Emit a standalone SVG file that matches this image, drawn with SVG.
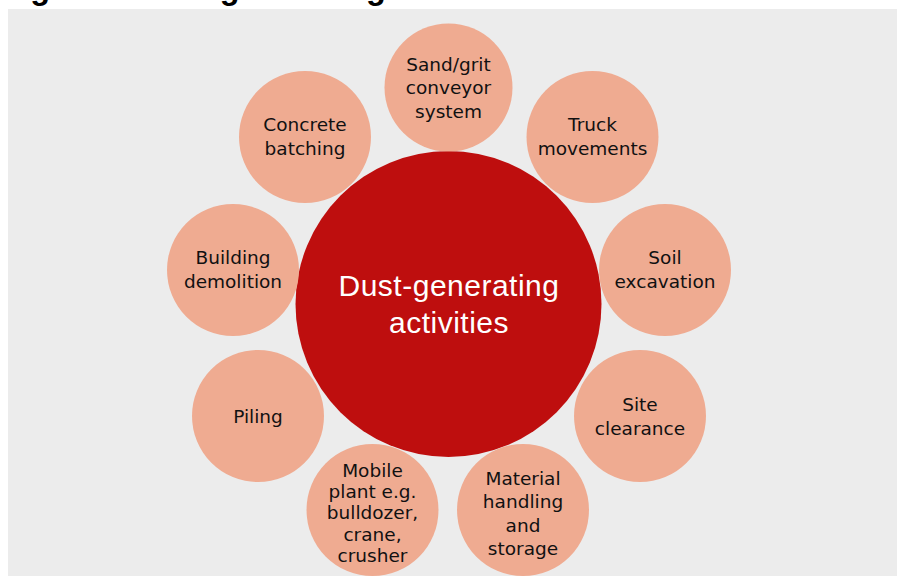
<svg xmlns="http://www.w3.org/2000/svg" width="898" height="576" viewBox="0 0 898 576">
  <style>
    .panel { fill: #ececec; }
    .hub { fill: #be0e0e; }
    .sat { fill: #efab91; }
    .title { font-family: "Liberation Sans", Arial, sans-serif; font-weight: bold; font-size: 32.5px; fill: #000; }
    .lbl { font-family: "DejaVu Sans", Verdana, sans-serif; font-size: 18.5px; fill: #111; text-anchor: middle; }
    .hubtxt { font-family: "Liberation Sans", Arial, sans-serif; font-size: 30px; letter-spacing: 0.5px; fill: #fff; text-anchor: middle; }
  </style>
  <rect x="0" y="0" width="898" height="576" fill="#ffffff"/>
  <text class="title" x="1.3" y="-1.2">Figure 1 Dust-generating activities</text>
  <rect class="panel" x="8" y="9" width="889" height="567"/>

  <g id="hub">
    <circle class="hub" cx="448.5" cy="304" r="153"/>
    <text class="hubtxt" x="449" y="296">Dust-generating</text>
    <text class="hubtxt" x="449" y="333">activities</text>
  </g>

  <g id="sand-grit">
    <circle class="sat" cx="448.5" cy="87.5" r="64"/>
    <text class="lbl" x="448.5" y="70.5">Sand/grit</text>
    <text class="lbl" x="448.5" y="94">conveyor</text>
    <text class="lbl" x="448.5" y="117.5">system</text>
  </g>

  <g id="concrete">
    <circle class="sat" cx="305" cy="137" r="66"/>
    <text class="lbl" x="305" y="131">Concrete</text>
    <text class="lbl" x="305" y="155">batching</text>
  </g>

  <g id="truck">
    <circle class="sat" cx="592.5" cy="137" r="66"/>
    <text class="lbl" x="592.5" y="131">Truck</text>
    <text class="lbl" x="592.5" y="155">movements</text>
  </g>

  <g id="demolition">
    <circle class="sat" cx="233" cy="270" r="66"/>
    <text class="lbl" x="233" y="264">Building</text>
    <text class="lbl" x="233" y="288">demolition</text>
  </g>

  <g id="soil">
    <circle class="sat" cx="665" cy="270" r="66"/>
    <text class="lbl" x="665" y="264">Soil</text>
    <text class="lbl" x="665" y="288">excavation</text>
  </g>

  <g id="piling">
    <circle class="sat" cx="258" cy="416" r="66"/>
    <text class="lbl" x="258" y="422.5">Piling</text>
  </g>

  <g id="site">
    <circle class="sat" cx="640" cy="416" r="66"/>
    <text class="lbl" x="640" y="410.5">Site</text>
    <text class="lbl" x="640" y="434.5">clearance</text>
  </g>

  <g id="mobile">
    <circle class="sat" cx="372.5" cy="510" r="66"/>
    <text class="lbl" x="372.5" y="476.5">Mobile</text>
    <text class="lbl" x="372.5" y="498">plant e.g.</text>
    <text class="lbl" x="372.5" y="519">bulldozer,</text>
    <text class="lbl" x="372.5" y="540.5">crane,</text>
    <text class="lbl" x="372.5" y="561.5">crusher</text>
  </g>

  <g id="material">
    <circle class="sat" cx="523" cy="510" r="66"/>
    <text class="lbl" x="523" y="484.5">Material</text>
    <text class="lbl" x="523" y="508">handling</text>
    <text class="lbl" x="523" y="531.5">and</text>
    <text class="lbl" x="523" y="555">storage</text>
  </g>
</svg>
